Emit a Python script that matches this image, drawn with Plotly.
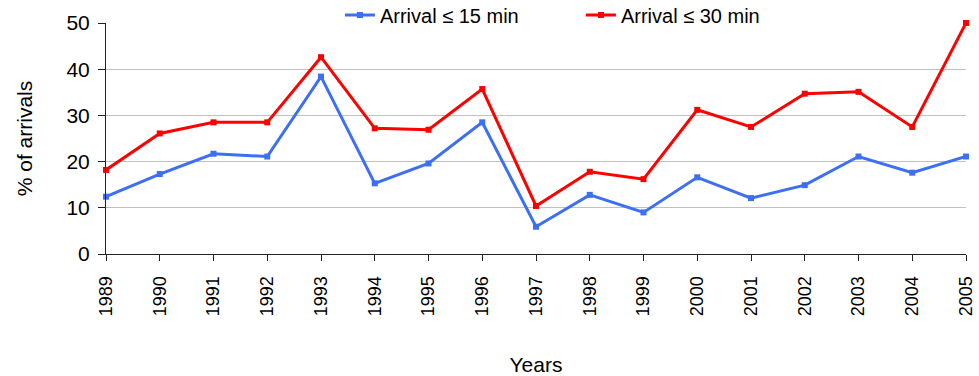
import plotly.graph_objects as go

years = list(range(1989, 2006))
arrival_15 = [12.4, 17.3, 21.7, 21.1, 38.4, 15.3, 19.6, 28.5, 5.9, 12.8, 9.0, 16.6, 12.1, 14.9, 21.1, 17.6, 21.1]
arrival_30 = [18.2, 26.1, 28.5, 28.5, 42.6, 27.2, 26.9, 35.7, 10.4, 17.8, 16.2, 31.2, 27.5, 34.7, 35.1, 27.5, 50.0]
series_names = ["Arrival \u2264 15 min", "Arrival \u2264 30 min"]
y_ticks = [0, 10, 20, 30, 40, 50]

font_family = "Liberation Sans, Arial, sans-serif"

fig = go.Figure()
fig.add_trace(go.Scatter(
    x=years, y=arrival_15, name=series_names[0], mode="lines+markers",
    line=dict(color="#3d6ff5", width=3),
    marker=dict(symbol="square", size=6, color="#3d6ff5"),
    cliponaxis=False,
))
fig.add_trace(go.Scatter(
    x=years, y=arrival_30, name=series_names[1], mode="lines+markers",
    line=dict(color="#ff0000", width=3),
    marker=dict(symbol="square", size=6, color="#ff0000"),
    cliponaxis=False,
))

fig.update_layout(
    width=979, height=376,
    margin=dict(l=106, r=13, t=23, b=122, autoexpand=False),
    paper_bgcolor="white", plot_bgcolor="white",
    font=dict(family=font_family, size=18, color="black"),
    showlegend=True,
    legend=dict(
        orientation="h", x=0.272, xanchor="left", y=1.035, yanchor="middle",
        bgcolor="white", font=dict(size=20),
        entrywidth=196, entrywidthmode="pixels",
    ),
    xaxis=dict(
        range=[1989, 2005], tickmode="array", tickvals=years,
        ticktext=[str(y) for y in years], tickangle=-90,
        ticks="outside", ticklen=6, tickcolor="#222222",
        showline=True, linecolor="#222222", linewidth=1,
        showgrid=False, zeroline=False, automargin=False,
        tickfont=dict(size=18), ticklabelstandoff=8,
        title=dict(text="Years", font=dict(size=21), standoff=44),
    ),
    yaxis=dict(
        range=[0, 50], tickmode="array", tickvals=y_ticks,
        ticks="outside", ticklen=7, tickcolor="#222222",
        showline=True, linecolor="#222222", linewidth=1,
        showgrid=True, gridcolor="#c0c0c0", gridwidth=1, zeroline=False,
        automargin=False,
        tickfont=dict(size=21), ticklabelstandoff=4,
        title=dict(text="% of arrivals", font=dict(size=21), standoff=28),
    ),
)

fig.write_html("out.html")
